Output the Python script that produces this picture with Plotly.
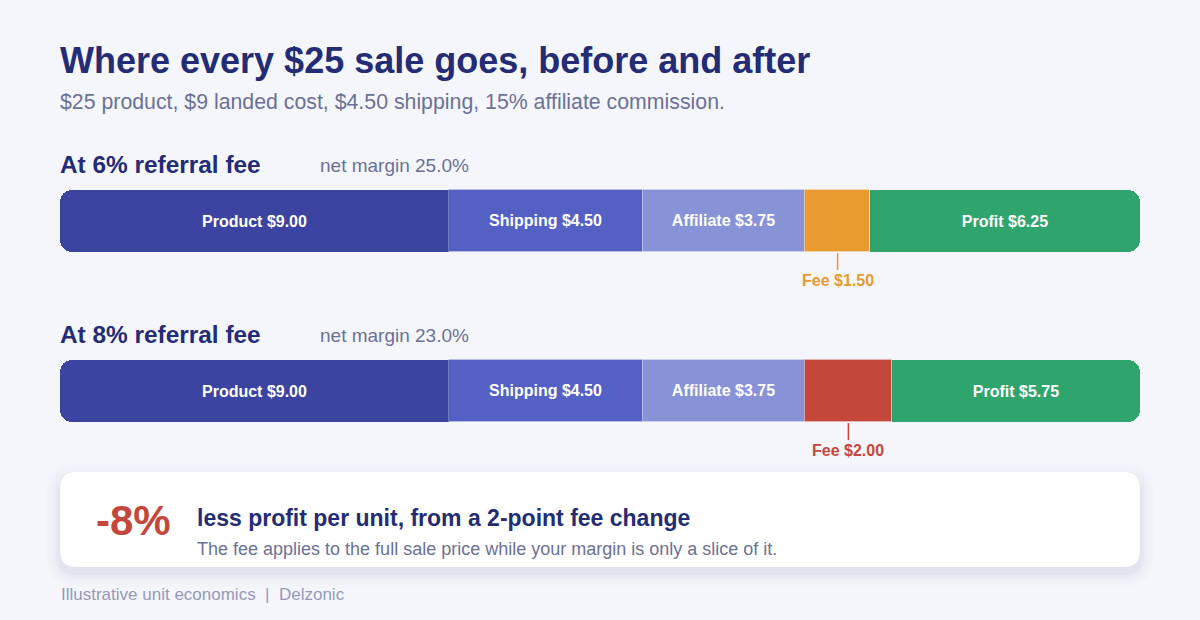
import plotly.graph_objects as go

# ---------------- data ----------------
categories = ["Product", "Shipping", "Affiliate", "Fee", "Profit"]
fee6_values = [9.00, 4.50, 3.75, 1.50, 6.25]
fee8_values = [9.00, 4.50, 3.75, 2.00, 5.75]
scenario_titles = ["At 6% referral fee", "At 8% referral fee"]
net_margins = ["net margin 25.0%", "net margin 23.0%"]
sale_price = 25
profit_change = "-8%"

# ---------------- style ----------------
W, H = 1200, 620
BG = "#F5F6FB"
NAVY = "#232C75"
GREY = "#6B7196"
FOOT = "#9499BA"
FONT = "Liberation Sans, Arial, Helvetica, sans-serif"
seg_colors = {
    "Product": "#3B44A0",
    "Shipping": "#5560C5",
    "Affiliate": "#8892D7",
    "Profit": "#30A46D",
}
fee_colors = ["#E89A2E", "#C4473B"]
bar_centers = [221, 391]   # y (pixels, axis runs top->bottom)
bar_height = 62
radius = 12

fig = go.Figure()

for row, vals in enumerate([fee6_values, fee8_values]):
    base = 0.0
    yc = bar_centers[row]
    n = len(vals)
    for i, (cat, v) in enumerate(zip(categories, vals)):
        color = fee_colors[row] if cat == "Fee" else seg_colors[cat]
        label = "" if cat == "Fee" else f"{cat} ${v:.2f}"
        end_seg = i == 0 or i == n - 1
        if end_seg:
            # square filler on the inner half so only the outer end looks rounded
            fx = [v / 2]
            fb = [base + v / 2] if i == 0 else [base]
            fig.add_trace(go.Bar(
                orientation="h", x=fx, base=fb, y=[yc], width=bar_height,
                marker=dict(color=color, cornerradius=0, line=dict(width=0)),
                hoverinfo="skip", showlegend=False,
            ))
        fig.add_trace(go.Bar(
            orientation="h", x=[v], base=[base], y=[yc], width=bar_height,
            marker=dict(color=color, cornerradius=(radius if end_seg else 0),
                        line=dict(width=(0 if end_seg else 1),
                                  color="rgba(255,255,255,0.22)")),
            text=[label], textposition="inside", insidetextanchor="middle",
            textangle=0,
            textfont=dict(color="white", size=16, family=FONT, weight=700),
            hoverinfo="skip", showlegend=False,
        ))
        if cat == "Fee":
            fig.add_annotation(
                x=base + v / 2, y=yc + bar_height / 2 + 1, xref="x", yref="y",
                text=f"<b>Fee ${v:.2f}</b>", showarrow=True, arrowhead=0,
                arrowwidth=1.5, arrowcolor=color, ax=0, ay=27,
                font=dict(color=color, size=16, family=FONT),
            )
        base += v

# ---------------- text ----------------
def px_text(x, y, text, size, color, bold=False, xanchor="left"):
    fig.add_annotation(
        x=x / W, y=y, xref="paper", yref="y", text=(f"<b>{text}</b>" if bold else text),
        showarrow=False, xanchor=xanchor, yanchor="middle",
        font=dict(size=size, color=color, family=FONT),
    )

px_text(58, 60, "Where every $25 sale goes, before and after", 36, NAVY, bold=True)
px_text(58, 102, "$25 product, $9 landed cost, $4.50 shipping, 15% affiliate commission.", 21.3, GREY)
for row in range(2):
    yh = bar_centers[row] - 57
    px_text(58, yh, scenario_titles[row], 24.4, NAVY, bold=True)
    px_text(318, yh + 1, net_margins[row], 19, GREY)

# card with soft shadow
def rrect(x0, y0, x1, y1, r):
    X = lambda v: f"{v / W:.5f}"
    return (f"M{X(x0+r)},{y0} L{X(x1-r)},{y0} Q{X(x1)},{y0} {X(x1)},{y0+r} L{X(x1)},{y1-r} "
            f"Q{X(x1)},{y1} {X(x1-r)},{y1} L{X(x0+r)},{y1} Q{X(x0)},{y1} {X(x0)},{y1-r} "
            f"L{X(x0)},{y0+r} Q{X(x0)},{y0} {X(x0+r)},{y0} Z")

cx0, cy0, cx1, cy1 = 60, 472, 1140, 567
for k, a in [(14, 0.008), (11, 0.012), (8, 0.016), (5, 0.022), (2, 0.03)]:
    fig.add_shape(type="path", path=rrect(cx0 - k, cy0 - k + 6, cx1 + k, cy1 + k + 6, 16 + k),
                  xref="paper", yref="y", layer="below", line=dict(width=0),
                  fillcolor=f"rgba(40,50,120,{a})")
fig.add_shape(type="path", path=rrect(cx0, cy0, cx1, cy1, 16), xref="paper", yref="y",
              layer="below", line=dict(width=0), fillcolor="white")

px_text(94, 520, f"<b>{profit_change}</b>", 42, "#C4473B")
px_text(195, 518, "less profit per unit, from a 2-point fee change", 23, NAVY, bold=True)
px_text(195, 549, "The fee applies to the full sale price while your margin is only a slice of it.", 18, GREY)
px_text(59, 594, "Illustrative unit economics  |  Delzonic", 17, FOOT)

# ---------------- layout ----------------
fig.update_layout(
    width=W, height=H, margin=dict(l=0, r=0, t=0, b=0),
    paper_bgcolor=BG, plot_bgcolor=BG, barmode="overlay", bargap=0,
    font=dict(family=FONT),
    xaxis=dict(range=[0, sale_price], domain=[60 / W, 1140 / W], visible=False, fixedrange=True),
    yaxis=dict(range=[H, 0], domain=[0, 1], visible=False, fixedrange=True),
)

fig.write_html(
    "out.html",
    config={"displayModeBar": False},
    post_script="document.body.style.margin='0';document.body.style.overflow='hidden';",
)
